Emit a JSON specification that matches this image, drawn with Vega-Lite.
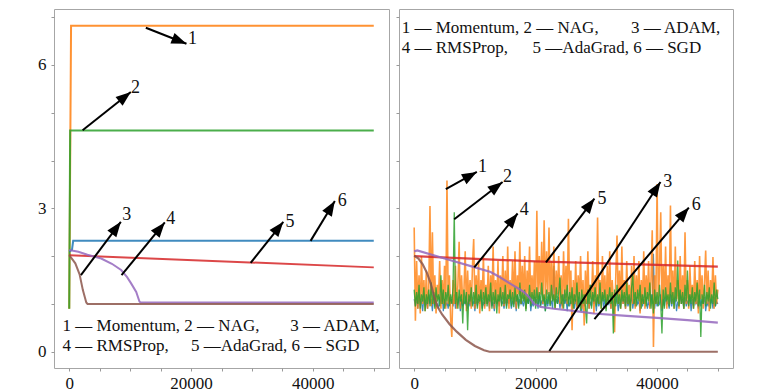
{
"$schema":"https://vega.github.io/schema/vega-lite/v6.json",
"padding":{"left":37,"top":8,"right":0,"bottom":0},
"spacing":5,
"config":{
"view":{"stroke":"#a6a6a6","strokeWidth":1},
"axis":{"grid":false,"domain":false,"tickColor":"#999999","tickSize":3,"labelFont":"'Liberation Serif', 'Times New Roman', 'DejaVu Serif', serif","labelFontSize":17,"labelColor":"#111111"},
"axisX":{"values":[0,10000,20000,30000,40000,50000],"labelExpr":"datum.value % 20000 === 0 ? datum.label : ''","format":"d","labelPadding":4},
"axisY":{"values":[0,1,2,3,4,5,6,7],"labelExpr":"datum.value % 3 === 0 ? datum.label : ''","labelPadding":5}
},
"datasets":{
"left":[
{"k":"Momentum","x":0,"y":0.9},{"k":"Momentum","x":300,"y":6.82},{"k":"Momentum","x":50000,"y":6.82},
{"k":"NAG","x":0,"y":0.9},{"k":"NAG","x":150,"y":4.63},{"k":"NAG","x":50000,"y":4.63},
{"k":"SGD","x":0,"y":2.1},{"k":"SGD","x":450,"y":2.13},{"k":"SGD","x":650,"y":2.32},{"k":"SGD","x":50000,"y":2.32},
{"k":"AdaGrad","x":0,"y":2.02},{"k":"AdaGrad","x":50000,"y":1.765},
{"k":"RMSProp","x":0,"y":2.13},{"k":"RMSProp","x":1500,"y":2.09},{"k":"RMSProp","x":3000,"y":2.03},{"k":"RMSProp","x":5250,"y":1.95},{"k":"RMSProp","x":7000,"y":1.84},{"k":"RMSProp","x":8520,"y":1.71},{"k":"RMSProp","x":9500,"y":1.56},{"k":"RMSProp","x":10160,"y":1.43},{"k":"RMSProp","x":11000,"y":1.25},{"k":"RMSProp","x":11530,"y":1.05},{"k":"RMSProp","x":11700,"y":1.03},{"k":"RMSProp","x":50000,"y":1.03},
{"k":"ADAM","x":0,"y":2.02},{"k":"ADAM","x":1000,"y":1.85},{"k":"ADAM","x":1700,"y":1.62},{"k":"ADAM","x":2240,"y":1.29},{"k":"ADAM","x":2800,"y":1.03},{"k":"ADAM","x":3000,"y":1.0},{"k":"ADAM","x":50000,"y":1.0}
],
"rs":[
{"k":"AdaGrad","x":0,"y":2.0},{"k":"AdaGrad","x":20000,"y":1.89},{"k":"AdaGrad","x":50000,"y":1.78},
{"k":"ADAM","x":0,"y":2.01},{"k":"ADAM","x":700,"y":1.95},{"k":"ADAM","x":1400,"y":1.83},{"k":"ADAM","x":2100,"y":1.65},{"k":"ADAM","x":2750,"y":1.42},{"k":"ADAM","x":3300,"y":1.15},{"k":"ADAM","x":3800,"y":0.95},{"k":"ADAM","x":4600,"y":0.78},{"k":"ADAM","x":5800,"y":0.58},{"k":"ADAM","x":7000,"y":0.42},{"k":"ADAM","x":8500,"y":0.25},{"k":"ADAM","x":10000,"y":0.12},{"k":"ADAM","x":11500,"y":0.03},{"k":"ADAM","x":12400,"y":0},{"k":"ADAM","x":50000,"y":0},
{"k":"RMSProp","x":0,"y":2.1},{"k":"RMSProp","x":500,"y":2.12},{"k":"RMSProp","x":5000,"y":1.95},{"k":"RMSProp","x":9890,"y":1.77},{"k":"RMSProp","x":12580,"y":1.67},{"k":"RMSProp","x":14000,"y":1.57},{"k":"RMSProp","x":15880,"y":1.42},{"k":"RMSProp","x":18070,"y":1.25},{"k":"RMSProp","x":19000,"y":1.13},{"k":"RMSProp","x":19720,"y":1.0},{"k":"RMSProp","x":20820,"y":0.94},{"k":"RMSProp","x":23000,"y":0.9},{"k":"RMSProp","x":26600,"y":0.85},{"k":"RMSProp","x":29570,"y":0.8},{"k":"RMSProp","x":35000,"y":0.75},{"k":"RMSProp","x":40000,"y":0.71},{"k":"RMSProp","x":45000,"y":0.66},{"k":"RMSProp","x":50000,"y":0.61}
],
"rn":[
{"x":0,"m":2.6,"n":1.3,"s":1.1},{"x":200,"m":0.65,"n":0.95,"s":0.95},{"x":400,"m":1.9,"n":1.25,"s":1.15},{"x":600,"m":0.9,"n":1,"s":0.9},{"x":800,"m":1.6,"n":1.4,"s":1.2},{"x":1000,"m":0.8,"n":0.9,"s":1},{"x":1200,"m":2,"n":1.2,"s":1.05},{"x":1400,"m":1,"n":1.05,"s":0.85},{"x":1600,"m":1.5,"n":1.35,"s":1.15},{"x":1800,"m":0.85,"n":0.85,"s":0.95},
{"x":2000,"m":1.7,"n":1.2,"s":1.05},{"x":2200,"m":0.9,"n":1,"s":0.9},{"x":2400,"m":1.3,"n":1.3,"s":1.2},{"x":2600,"m":3.05,"n":0.95,"s":1},{"x":2800,"m":0.95,"n":1.45,"s":1.1},{"x":3000,"m":2.5,"n":1,"s":0.85},{"x":3200,"m":1,"n":1.25,"s":1.15},{"x":3400,"m":1.6,"n":0.9,"s":0.95},{"x":3600,"m":0.8,"n":1.35,"s":1.05},{"x":3800,"m":1.4,"n":1.05,"s":1},
{"x":4000,"m":1.1,"n":1.2,"s":0.9},{"x":4200,"m":1.9,"n":0.95,"s":1.15},{"x":4400,"m":0.9,"n":1.6,"s":1},{"x":4600,"m":1.5,"n":1,"s":1.2},{"x":4800,"m":1,"n":1.3,"s":0.85},{"x":5000,"m":1.8,"n":0.9,"s":1.1},{"x":5200,"m":0.9,"n":1.25,"s":0.95},{"x":5400,"m":3.58,"n":1.05,"s":1.05},{"x":5600,"m":1,"n":1.4,"s":0.9},{"x":5800,"m":1.6,"n":0.95,"s":1.15},
{"x":6000,"m":0.7,"n":1.2,"s":1},{"x":6200,"m":0.31,"n":1,"s":1.1},{"x":6400,"m":1.5,"n":1.35,"s":0.95},{"x":6600,"m":1,"n":2.92,"s":1.2},{"x":6800,"m":1.8,"n":1,"s":0.9},{"x":7000,"m":0.9,"n":1.25,"s":1.05},{"x":7200,"m":1.4,"n":0.9,"s":1},{"x":7400,"m":2.3,"n":1.3,"s":1.15},{"x":7600,"m":0.9,"n":1.05,"s":0.85},{"x":7800,"m":1.6,"n":1.2,"s":1.1},
{"x":8000,"m":1,"n":0.59,"s":0.95},{"x":8200,"m":1.3,"n":1.3,"s":1.05},{"x":8400,"m":2.1,"n":1,"s":1},{"x":8600,"m":0.85,"n":1.25,"s":1.2},{"x":8800,"m":1.7,"n":0.45,"s":0.9},{"x":9000,"m":1,"n":1.2,"s":1.1},{"x":9200,"m":1.5,"n":1.05,"s":0.95},{"x":9400,"m":0.9,"n":1.35,"s":1.15},{"x":9600,"m":1.8,"n":0.95,"s":1},{"x":9800,"m":2.36,"n":1.25,"s":1.05},
{"x":10000,"m":0.9,"n":1,"s":0.85},{"x":10200,"m":1.6,"n":1.4,"s":1.15},{"x":10400,"m":1,"n":0.9,"s":0.95},{"x":10600,"m":1.9,"n":1.2,"s":1.1},{"x":10800,"m":0.8,"n":1.05,"s":1},{"x":11000,"m":1.5,"n":1.3,"s":1.2},{"x":11200,"m":1.1,"n":0.85,"s":0.9},{"x":11400,"m":2,"n":1.25,"s":1.05},{"x":11600,"m":0.9,"n":1,"s":0.95},{"x":11800,"m":1.4,"n":1.35,"s":1.15},
{"x":12000,"m":1,"n":0.95,"s":1},{"x":12200,"m":1.8,"n":1.2,"s":1.1},{"x":12400,"m":0.85,"n":1.05,"s":0.9},{"x":12600,"m":1.6,"n":1.45,"s":1.2},{"x":12800,"m":1.05,"n":0.9,"s":0.95},{"x":13000,"m":2.2,"n":1.25,"s":1.05},{"x":13200,"m":0.9,"n":1,"s":0.85},{"x":13400,"m":1.5,"n":1.3,"s":1.15},{"x":13600,"m":1,"n":0.8,"s":1},{"x":13800,"m":1.9,"n":1.2,"s":1.1},
{"x":14000,"m":0.8,"n":1.05,"s":0.95},{"x":14200,"m":1.6,"n":1.35,"s":1.2},{"x":14400,"m":1.1,"n":0.95,"s":1},{"x":14600,"m":2,"n":1.25,"s":1.05},{"x":14800,"m":0.95,"n":1,"s":0.9},{"x":15000,"m":1.7,"n":1.4,"s":1.15},{"x":15200,"m":1,"n":0.9,"s":0.95},{"x":15400,"m":2.2,"n":1.2,"s":1.1},{"x":15600,"m":0.9,"n":1.1,"s":1},{"x":15800,"m":1.5,"n":1.3,"s":1.2},
{"x":16000,"m":1.1,"n":0.95,"s":0.9},{"x":16200,"m":1.9,"n":1.25,"s":1.05},{"x":16400,"m":1,"n":0.93,"s":1},{"x":16600,"m":2.1,"n":1.35,"s":1.15},{"x":16800,"m":0.9,"n":1.05,"s":0.85},{"x":17000,"m":1.6,"n":1.2,"s":1.2},{"x":17200,"m":1.2,"n":0.9,"s":0.95},{"x":17400,"m":2.3,"n":1.45,"s":1.1},{"x":17600,"m":1,"n":1,"s":1},{"x":17800,"m":1.8,"n":1.25,"s":1.05},
{"x":18000,"m":1.1,"n":1.05,"s":0.95},{"x":18200,"m":2,"n":1.3,"s":1.15},{"x":18400,"m":0.9,"n":0.85,"s":0.9},{"x":18600,"m":1.7,"n":1.2,"s":1.1},{"x":18800,"m":1.2,"n":1,"s":1},{"x":19000,"m":2.2,"n":1.4,"s":1.2},{"x":19200,"m":1,"n":0.95,"s":0.85},{"x":19400,"m":1.6,"n":1.25,"s":1.05},{"x":19600,"m":1.1,"n":1.05,"s":0.95},{"x":19800,"m":1.9,"n":1.3,"s":1.15},
{"x":20000,"m":1,"n":0.9,"s":1},{"x":20200,"m":2.95,"n":1.35,"s":1.1},{"x":20400,"m":1.1,"n":1,"s":0.9},{"x":20600,"m":2,"n":1.25,"s":1.2},{"x":20800,"m":1.2,"n":0.95,"s":0.95},{"x":21000,"m":2.3,"n":1.45,"s":1.05},{"x":21200,"m":1,"n":1.05,"s":1},{"x":21400,"m":2.75,"n":1.2,"s":1.15},{"x":21600,"m":1.1,"n":0.85,"s":0.85},{"x":21800,"m":2.1,"n":1.3,"s":1.1},
{"x":22000,"m":1.2,"n":1,"s":0.95},{"x":22200,"m":2.6,"n":1.25,"s":1.2},{"x":22400,"m":1,"n":0.95,"s":1},{"x":22600,"m":1.9,"n":1.4,"s":1.05},{"x":22800,"m":1.1,"n":1.05,"s":0.9},{"x":23000,"m":2.2,"n":1.2,"s":1.8},{"x":23200,"m":0.9,"n":0.9,"s":0.95},{"x":23400,"m":1.7,"n":1.35,"s":1.1},{"x":23600,"m":1.2,"n":1,"s":1},{"x":23800,"m":2,"n":1.25,"s":1.15},
{"x":24000,"m":1,"n":1.55,"s":0.9},{"x":24200,"m":1.6,"n":1,"s":1.05},{"x":24400,"m":0.9,"n":1.2,"s":0.95},{"x":24600,"m":2.1,"n":0.9,"s":1.2},{"x":24800,"m":1.1,"n":1.3,"s":1},{"x":25000,"m":1.8,"n":1.05,"s":1.1},{"x":25200,"m":1,"n":1.4,"s":0.85},{"x":25400,"m":2.78,"n":0.95,"s":1.15},{"x":25600,"m":1.1,"n":1.25,"s":0.95},{"x":25800,"m":1.7,"n":1,"s":1.05},
{"x":26000,"m":0.45,"n":1.35,"s":1},{"x":26200,"m":1.5,"n":0.9,"s":1.2},{"x":26400,"m":1,"n":1.2,"s":0.9},{"x":26600,"m":1.9,"n":1.05,"s":1.1},{"x":26800,"m":0.9,"n":1.45,"s":0.95},{"x":27000,"m":1.6,"n":0.95,"s":1.15},{"x":27200,"m":1.1,"n":1.25,"s":1},{"x":27400,"m":2,"n":0.85,"s":1.05},{"x":27600,"m":0.9,"n":1.3,"s":0.85},{"x":27800,"m":1.5,"n":1,"s":1.2},
{"x":28000,"m":0.55,"n":1.2,"s":0.95},{"x":28200,"m":1.7,"n":0.95,"s":1.1},{"x":28400,"m":1,"n":0.59,"s":1},{"x":28600,"m":2.1,"n":1.3,"s":1.15},{"x":28800,"m":0.9,"n":1,"s":0.9},{"x":29000,"m":1.4,"n":1.4,"s":1.05},{"x":29200,"m":1.1,"n":0.9,"s":0.95},{"x":29400,"m":1.9,"n":1.25,"s":1.2},{"x":29600,"m":0.8,"n":1.05,"s":1},{"x":29800,"m":1.6,"n":1.35,"s":1.1},
{"x":30000,"m":1,"n":0.95,"s":0.85},{"x":30200,"m":2.81,"n":1.2,"s":1.15},{"x":30400,"m":1,"n":1,"s":0.95},{"x":30600,"m":1.5,"n":1.45,"s":1.05},{"x":30800,"m":0.9,"n":0.9,"s":1},{"x":31000,"m":2,"n":1.25,"s":1.2},{"x":31200,"m":1.1,"n":1.05,"s":0.9},{"x":31400,"m":1.6,"n":1.3,"s":1.1},{"x":31600,"m":0.9,"n":0.85,"s":0.95},{"x":31800,"m":1.8,"n":1.2,"s":1.15},
{"x":32000,"m":1,"n":1.05,"s":1},{"x":32200,"m":2.1,"n":1.35,"s":1.05},{"x":32400,"m":0.9,"n":1,"s":0.9},{"x":32600,"m":1.5,"n":1.25,"s":1.2},{"x":32800,"m":1.1,"n":0.38,"s":0.95},{"x":33000,"m":0.41,"n":1.3,"s":1.1},{"x":33200,"m":1.6,"n":0.95,"s":1},{"x":33400,"m":2.43,"n":1.4,"s":1.15},{"x":33600,"m":1,"n":1,"s":0.85},{"x":33800,"m":1.7,"n":1.2,"s":1.05},
{"x":34000,"m":0.9,"n":0.9,"s":0.95},{"x":34200,"m":2.2,"n":1.3,"s":1.2},{"x":34400,"m":1,"n":1.05,"s":1},{"x":34600,"m":1.5,"n":1.25,"s":1.1},{"x":34800,"m":0.9,"n":0.95,"s":0.9},{"x":35000,"m":1.9,"n":1.45,"s":1.15},{"x":35200,"m":1,"n":1,"s":0.95},{"x":35400,"m":1.4,"n":1.2,"s":1.05},{"x":35600,"m":0.85,"n":0.85,"s":1},{"x":35800,"m":1.8,"n":1.35,"s":1.2},
{"x":36000,"m":1,"n":1.6,"s":0.9},{"x":36200,"m":2,"n":1,"s":1.1},{"x":36400,"m":0.9,"n":1.25,"s":0.95},{"x":36600,"m":1.6,"n":0.95,"s":1.15},{"x":36800,"m":1.1,"n":1.3,"s":1},{"x":37000,"m":1.9,"n":1.05,"s":1.05},{"x":37200,"m":0.8,"n":1.4,"s":0.85},{"x":37400,"m":1.5,"n":0.9,"s":1.2},{"x":37600,"m":1,"n":1.2,"s":0.95},{"x":37800,"m":2.1,"n":1,"s":1.1},
{"x":38000,"m":0.9,"n":1.35,"s":1},{"x":38200,"m":1.6,"n":0.95,"s":1.15},{"x":38400,"m":1.1,"n":1.25,"s":0.9},{"x":38600,"m":1.9,"n":1.05,"s":1.05},{"x":38800,"m":0.9,"n":1.45,"s":0.95},{"x":39000,"m":1.5,"n":0.9,"s":1.2},{"x":39200,"m":2.54,"n":1.2,"s":1},{"x":39400,"m":0.1,"n":0.8,"s":2.05},{"x":39600,"m":1.6,"n":1.3,"s":0.9},{"x":39800,"m":1,"n":1,"s":1.15},
{"x":40000,"m":3.51,"n":1.25,"s":0.95},{"x":40200,"m":1,"n":0.95,"s":1.05},{"x":40400,"m":1.7,"n":1.4,"s":1},{"x":40600,"m":2.92,"n":1,"s":1.2},{"x":40800,"m":0.9,"n":0.38,"s":0.85},{"x":41000,"m":1.8,"n":1.3,"s":1.1},{"x":41200,"m":1.1,"n":0.9,"s":0.95},{"x":41400,"m":2.2,"n":1.35,"s":1.15},{"x":41600,"m":0.9,"n":1.05,"s":1},{"x":41800,"m":1.6,"n":1.2,"s":1.05},
{"x":42000,"m":1,"n":0.95,"s":0.9},{"x":42200,"m":3.06,"n":1.45,"s":1.2},{"x":42400,"m":1,"n":1,"s":0.95},{"x":42600,"m":1.7,"n":1.25,"s":1.1},{"x":42800,"m":0.9,"n":0.9,"s":1},{"x":43000,"m":2.2,"n":1.35,"s":1.15},{"x":43200,"m":1.1,"n":1.05,"s":0.85},{"x":43400,"m":1.5,"n":1.91,"s":1.05},{"x":43600,"m":0.9,"n":0.95,"s":0.95},{"x":43800,"m":2,"n":1.3,"s":1.2},
{"x":44000,"m":1,"n":1,"s":1},{"x":44200,"m":1.6,"n":1.25,"s":1.1},{"x":44400,"m":0.9,"n":0.9,"s":0.9},{"x":44600,"m":2.5,"n":1.4,"s":1.15},{"x":44800,"m":1,"n":1.05,"s":0.95},{"x":45000,"m":1.5,"n":1.7,"s":1.05},{"x":45200,"m":0.9,"n":0.95,"s":1},{"x":45400,"m":1.8,"n":1.2,"s":1.2},{"x":45600,"m":1.1,"n":1,"s":0.85},{"x":45800,"m":1.4,"n":1.35,"s":1.1},
{"x":46000,"m":0.9,"n":0.9,"s":0.95},{"x":46200,"m":1.9,"n":1.25,"s":1.15},{"x":46400,"m":1,"n":1.05,"s":1},{"x":46600,"m":1.5,"n":1.45,"s":1.05},{"x":46800,"m":0.8,"n":0.95,"s":0.9},{"x":47000,"m":2,"n":1.3,"s":1.2},{"x":47200,"m":1.1,"n":0.31,"s":0.95},{"x":47400,"m":1.6,"n":1.2,"s":1.1},{"x":47600,"m":0.9,"n":1,"s":1},{"x":47800,"m":1.4,"n":1.4,"s":1.15},
{"x":48000,"m":2.12,"n":0.95,"s":0.85},{"x":48200,"m":1,"n":1.25,"s":1.05},{"x":48400,"m":1.7,"n":1.05,"s":0.95},{"x":48600,"m":0.85,"n":1.35,"s":1.2},{"x":48800,"m":1.5,"n":0.9,"s":1},{"x":49000,"m":1.1,"n":1.2,"s":1.1},{"x":49200,"m":1.98,"n":1,"s":0.9},{"x":49400,"m":0.9,"n":1.45,"s":1.15},{"x":49600,"m":1.6,"n":0.95,"s":0.95},{"x":49800,"m":1,"n":1.3,"s":1.05},
{"x":50000,"m":1.3,"n":1.1,"s":1}
],
"al":[
{"x":12574,"y":6.778,"x2":19246,"y2":6.444,"lx":20230,"ly":6.533,"t":"1"},
{"x":2197,"y":4.632,"x2":10115,"y2":5.432,"lx":10885,"ly":5.52,"t":"2"},
{"x":1918,"y":1.603,"x2":8475,"y2":2.717,"lx":9459,"ly":2.857,"t":"3"},
{"x":8590,"y":1.603,"x2":15689,"y2":2.704,"lx":16672,"ly":2.787,"t":"4"},
{"x":29787,"y":1.86,"x2":35148,"y2":2.717,"lx":36230,"ly":2.717,"t":"5"},
{"x":39623,"y":2.319,"x2":43607,"y2":3.155,"lx":44820,"ly":3.155,"t":"6"}
],
"ar":[
{"x":5210,"y":3.4,"x2":10321,"y2":3.761,"lx":11261,"ly":3.865,"t":"1"},
{"x":6595,"y":2.773,"x2":14559,"y2":3.552,"lx":15383,"ly":3.656,"t":"2"},
{"x":9893,"y":1.763,"x2":17032,"y2":2.892,"lx":18137,"ly":2.961,"t":"4"},
{"x":21698,"y":1.868,"x2":29678,"y2":3.205,"lx":30931,"ly":3.205,"t":"5"},
{"x":22259,"y":0.015,"x2":40560,"y2":3.552,"lx":41764,"ly":3.552,"t":"3"},
{"x":29678,"y":0.683,"x2":45227,"y2":3.017,"lx":46430,"ly":3.065,"t":"6"}
],
"tl":[
{"x":-1100,"y":0.543,"t":"1 — Momentum, 2 — NAG,"},{"x":36300,"y":0.543,"t":"3 — ADAM,"},
{"x":-1100,"y":0.125,"t":"4 — RMSProp,"},{"x":20000,"y":0.125,"t":"5 —AdaGrad, 6 — SGD"}
],
"tr":[
{"x":-2050,"y":6.763,"t":"1 — Momentum, 2 — NAG,"},{"x":35700,"y":6.763,"t":"3 — ADAM,"},
{"x":-2050,"y":6.346,"t":"4 — RMSProp,"},{"x":19500,"y":6.346,"t":"5 —AdaGrad, 6 — SGD"}
]
},
"hconcat":[
{"width":335,"height":359,
"layer":[
{"data":{"name":"left"},"mark":{"type":"line","strokeWidth":2,"opacity":0.85},
"encoding":{
"x":{"field":"x","type":"quantitative","scale":{"domain":[-2500,52500],"nice":false,"zero":false},"title":null},
"y":{"field":"y","type":"quantitative","scale":{"domain":[-0.34,7.17],"nice":false,"zero":false},"title":null},
"color":{"field":"k","type":"nominal","legend":null,"scale":{"domain":["Momentum","NAG","ADAM","RMSProp","AdaGrad","SGD"],"range":["#ff7f0e","#2ca02c","#8c564b","#9467bd","#d62728","#1f77b4"]}}}},
{"data":{"name":"al"},"mark":{"type":"rule","color":"black","strokeWidth":2},
"encoding":{
"x":{"field":"x","type":"quantitative","scale":{"domain":[-2500,52500],"nice":false,"zero":false},"title":null},
"y":{"field":"y","type":"quantitative","scale":{"domain":[-0.34,7.17],"nice":false,"zero":false},"title":null},
"x2":{"field":"x2"},"y2":{"field":"y2"}}},
{"data":{"name":"al"},"transform":[{"calculate":"atan2((datum.x2-datum.x)*0.00609,(datum.y2-datum.y)*47.8)*180/PI","as":"ang"}],
"mark":{"type":"point","shape":"M0,0L0.75,2L-0.75,2Z","filled":true,"size":225,"color":"black","opacity":1,"strokeWidth":0},
"encoding":{
"x":{"field":"x2","type":"quantitative","scale":{"domain":[-2500,52500],"nice":false,"zero":false},"title":null},
"y":{"field":"y2","type":"quantitative","scale":{"domain":[-0.34,7.17],"nice":false,"zero":false},"title":null},
"angle":{"field":"ang","type":"quantitative","scale":null}}},
{"data":{"name":"al"},"mark":{"type":"text","font":"'Liberation Serif', 'Times New Roman', 'DejaVu Serif', serif","fontSize":18,"color":"#111111","align":"center","baseline":"middle"},
"encoding":{
"x":{"field":"lx","type":"quantitative","scale":{"domain":[-2500,52500],"nice":false,"zero":false},"title":null},
"y":{"field":"ly","type":"quantitative","scale":{"domain":[-0.34,7.17],"nice":false,"zero":false},"title":null},
"text":{"field":"t"}}},
{"data":{"name":"tl"},"mark":{"type":"text","font":"'Liberation Serif', 'Times New Roman', 'DejaVu Serif', serif","fontSize":17,"color":"#111111","align":"left","baseline":"middle"},
"encoding":{
"x":{"field":"x","type":"quantitative","scale":{"domain":[-2500,52500],"nice":false,"zero":false},"title":null},
"y":{"field":"y","type":"quantitative","scale":{"domain":[-0.34,7.17],"nice":false,"zero":false},"title":null},
"text":{"field":"t"}}}
]},
{"width":334,"height":359,
"layer":[
{"data":{"name":"rn"},"mark":{"type":"line","strokeWidth":1.2,"color":"#1f77b4","opacity":0.85},
"encoding":{
"x":{"field":"x","type":"quantitative","scale":{"domain":[-2500,52500],"nice":false,"zero":false},"title":null},
"y":{"field":"s","type":"quantitative","scale":{"domain":[-0.34,7.17],"nice":false,"zero":false},"title":null,"axis":{"labels":false}}}},
{"data":{"name":"rn"},"mark":{"type":"line","strokeWidth":1.6,"color":"#ff7f0e","opacity":0.8},
"encoding":{
"x":{"field":"x","type":"quantitative","scale":{"domain":[-2500,52500],"nice":false,"zero":false},"title":null},
"y":{"field":"m","type":"quantitative","scale":{"domain":[-0.34,7.17],"nice":false,"zero":false},"title":null,"axis":{"labels":false}}}},
{"data":{"name":"rn"},"mark":{"type":"line","strokeWidth":1.3,"color":"#2ca02c","opacity":0.85},
"encoding":{
"x":{"field":"x","type":"quantitative","scale":{"domain":[-2500,52500],"nice":false,"zero":false},"title":null},
"y":{"field":"n","type":"quantitative","scale":{"domain":[-0.34,7.17],"nice":false,"zero":false},"title":null,"axis":{"labels":false}}}},
{"data":{"name":"rs"},"mark":{"type":"line","strokeWidth":2.2,"opacity":0.85},
"encoding":{
"x":{"field":"x","type":"quantitative","scale":{"domain":[-2500,52500],"nice":false,"zero":false},"title":null},
"y":{"field":"y","type":"quantitative","scale":{"domain":[-0.34,7.17],"nice":false,"zero":false},"title":null,"axis":{"labels":false}},
"color":{"field":"k","type":"nominal","legend":null,"scale":{"domain":["Momentum","NAG","ADAM","RMSProp","AdaGrad","SGD"],"range":["#ff7f0e","#2ca02c","#8c564b","#9467bd","#d62728","#1f77b4"]}}}},
{"data":{"name":"ar"},"mark":{"type":"rule","color":"black","strokeWidth":2},
"encoding":{
"x":{"field":"x","type":"quantitative","scale":{"domain":[-2500,52500],"nice":false,"zero":false},"title":null},
"y":{"field":"y","type":"quantitative","scale":{"domain":[-0.34,7.17],"nice":false,"zero":false},"title":null,"axis":{"labels":false}},
"x2":{"field":"x2"},"y2":{"field":"y2"}}},
{"data":{"name":"ar"},"transform":[{"calculate":"atan2((datum.x2-datum.x)*0.00607,(datum.y2-datum.y)*47.8)*180/PI","as":"ang"}],
"mark":{"type":"point","shape":"M0,0L0.75,2L-0.75,2Z","filled":true,"size":225,"color":"black","opacity":1,"strokeWidth":0},
"encoding":{
"x":{"field":"x2","type":"quantitative","scale":{"domain":[-2500,52500],"nice":false,"zero":false},"title":null},
"y":{"field":"y2","type":"quantitative","scale":{"domain":[-0.34,7.17],"nice":false,"zero":false},"title":null,"axis":{"labels":false}},
"angle":{"field":"ang","type":"quantitative","scale":null}}},
{"data":{"name":"ar"},"mark":{"type":"text","font":"'Liberation Serif', 'Times New Roman', 'DejaVu Serif', serif","fontSize":18,"color":"#111111","align":"center","baseline":"middle"},
"encoding":{
"x":{"field":"lx","type":"quantitative","scale":{"domain":[-2500,52500],"nice":false,"zero":false},"title":null},
"y":{"field":"ly","type":"quantitative","scale":{"domain":[-0.34,7.17],"nice":false,"zero":false},"title":null,"axis":{"labels":false}},
"text":{"field":"t"}}},
{"data":{"name":"tr"},"mark":{"type":"text","font":"'Liberation Serif', 'Times New Roman', 'DejaVu Serif', serif","fontSize":17,"color":"#111111","align":"left","baseline":"middle"},
"encoding":{
"x":{"field":"x","type":"quantitative","scale":{"domain":[-2500,52500],"nice":false,"zero":false},"title":null},
"y":{"field":"y","type":"quantitative","scale":{"domain":[-0.34,7.17],"nice":false,"zero":false},"title":null,"axis":{"labels":false}},
"text":{"field":"t"}}}
]}
]
}
